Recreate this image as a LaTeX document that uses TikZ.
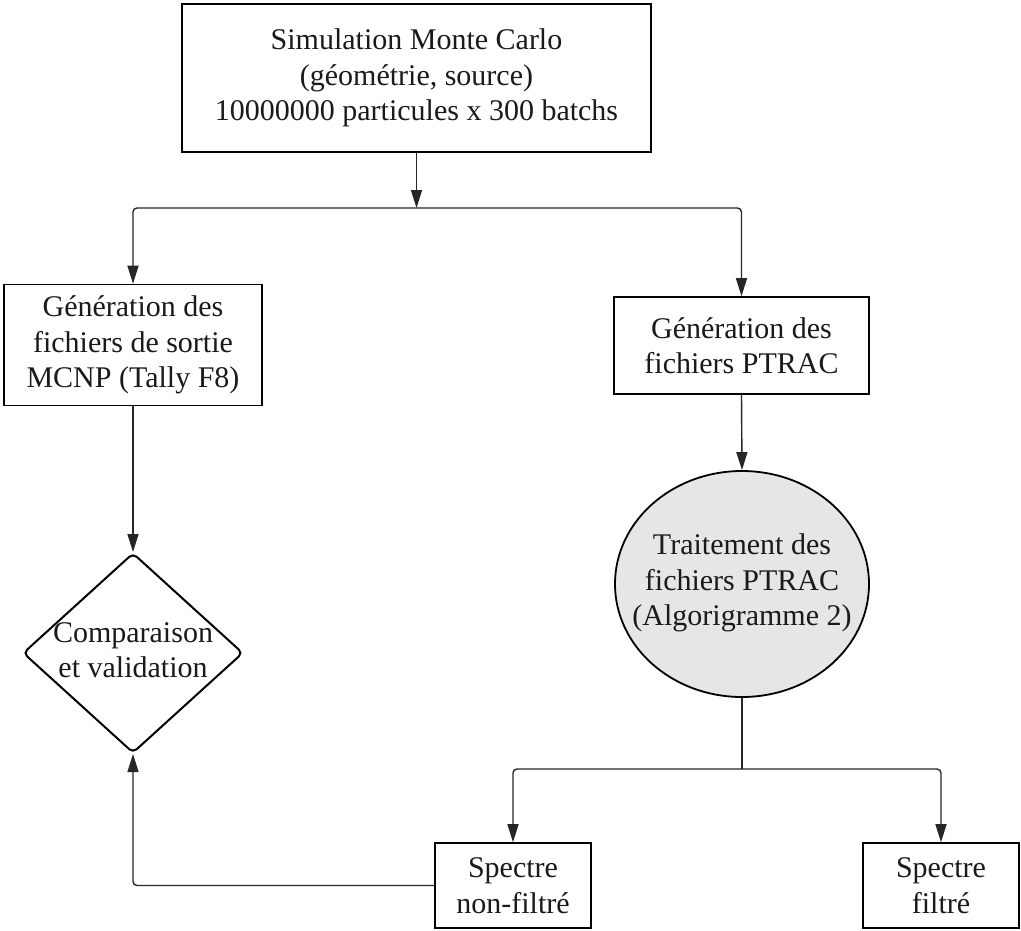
\documentclass[tikz,border=0pt]{standalone}
\usepackage{fontspec}
\setmainfont{Liberation Serif}
\usetikzlibrary{shapes.geometric,arrows.meta}
\newcommand{\smashtext}[2]{\makebox[0pt]{\raisebox{#1}{\smash{\begin{tabular}{@{}c@{}}#2\end{tabular}}}}}
\definecolor{txtcol}{HTML}{1A1A1A}
\definecolor{fillgray}{HTML}{E6E6E6}
\begin{document}
\begin{tikzpicture}[x=1pt,y=-1pt,
  font=\fontsize{30}{35.5}\selectfont,
  box/.style={draw=black, line width=1.6pt, rectangle, inner sep=0pt, align=center, text=txtcol},
  conn/.style={line width=1.4pt, draw=black!85, rounded corners=4pt},
  arr/.style={conn, -{Triangle[length=18pt,width=11pt]}}]
\useasboundingbox (0,0) rectangle (1021,930);
\fill[white] (0,0) rectangle (1021,930);

\node[box, minimum width=469pt, minimum height=148pt] (sim) at (416.5,78)
  {Simulation Monte Carlo\\(géométrie, source)\\10000000 particules x 300 batchs};
\node[box, minimum width=258pt, minimum height=121pt] (gen1) at (133,345)
  {Génération des\\fichiers de sortie\\MCNP (Tally F8)};
\node[box, minimum width=255pt, minimum height=97pt] (gen2) at (741.5,345.5)
  {Génération des\\fichiers PTRAC};
\node[draw=black, line width=1.8pt, ellipse, fill=fillgray, minimum width=254pt, minimum height=226pt, inner sep=0pt, text=txtcol] (trait) at (742,584)
  {\smashtext{-0.35em}{Traitement des\\fichiers PTRAC\\(Algorigramme 2)}};
\node[draw=black, line width=2pt, diamond, rounded corners=5pt, minimum width=220pt, minimum height=200pt, inner sep=0pt, text=txtcol] (comp) at (133,653)
  {\smashtext{-0.42em}{Comparaison\\et validation}};
\node[box, minimum width=156pt, minimum height=85pt] (spnf) at (513,885.5)
  {Spectre\\non-filtré};
\node[box, minimum width=156pt, minimum height=85pt] (spf) at (941,885.5)
  {Spectre\\filtré};

\coordinate (j1) at (416.5,208);
\coordinate (j2) at (742,769);

\draw[arr] (sim.south) -- (j1);
\draw[arr] (j1) -| (gen1.north);
\draw[arr] (j1) -| (gen2.north);
\draw[arr] (gen1.south) -- (comp.north);
\draw[arr] (gen2.south) -- (trait.north);
\draw[conn] (trait.south) -- (j2);
\draw[arr] (j2) -| (spnf.north);
\draw[arr] (j2) -| (spf.north);
\draw[arr] (spnf.west) -| (comp.south);
\end{tikzpicture}
\end{document}
